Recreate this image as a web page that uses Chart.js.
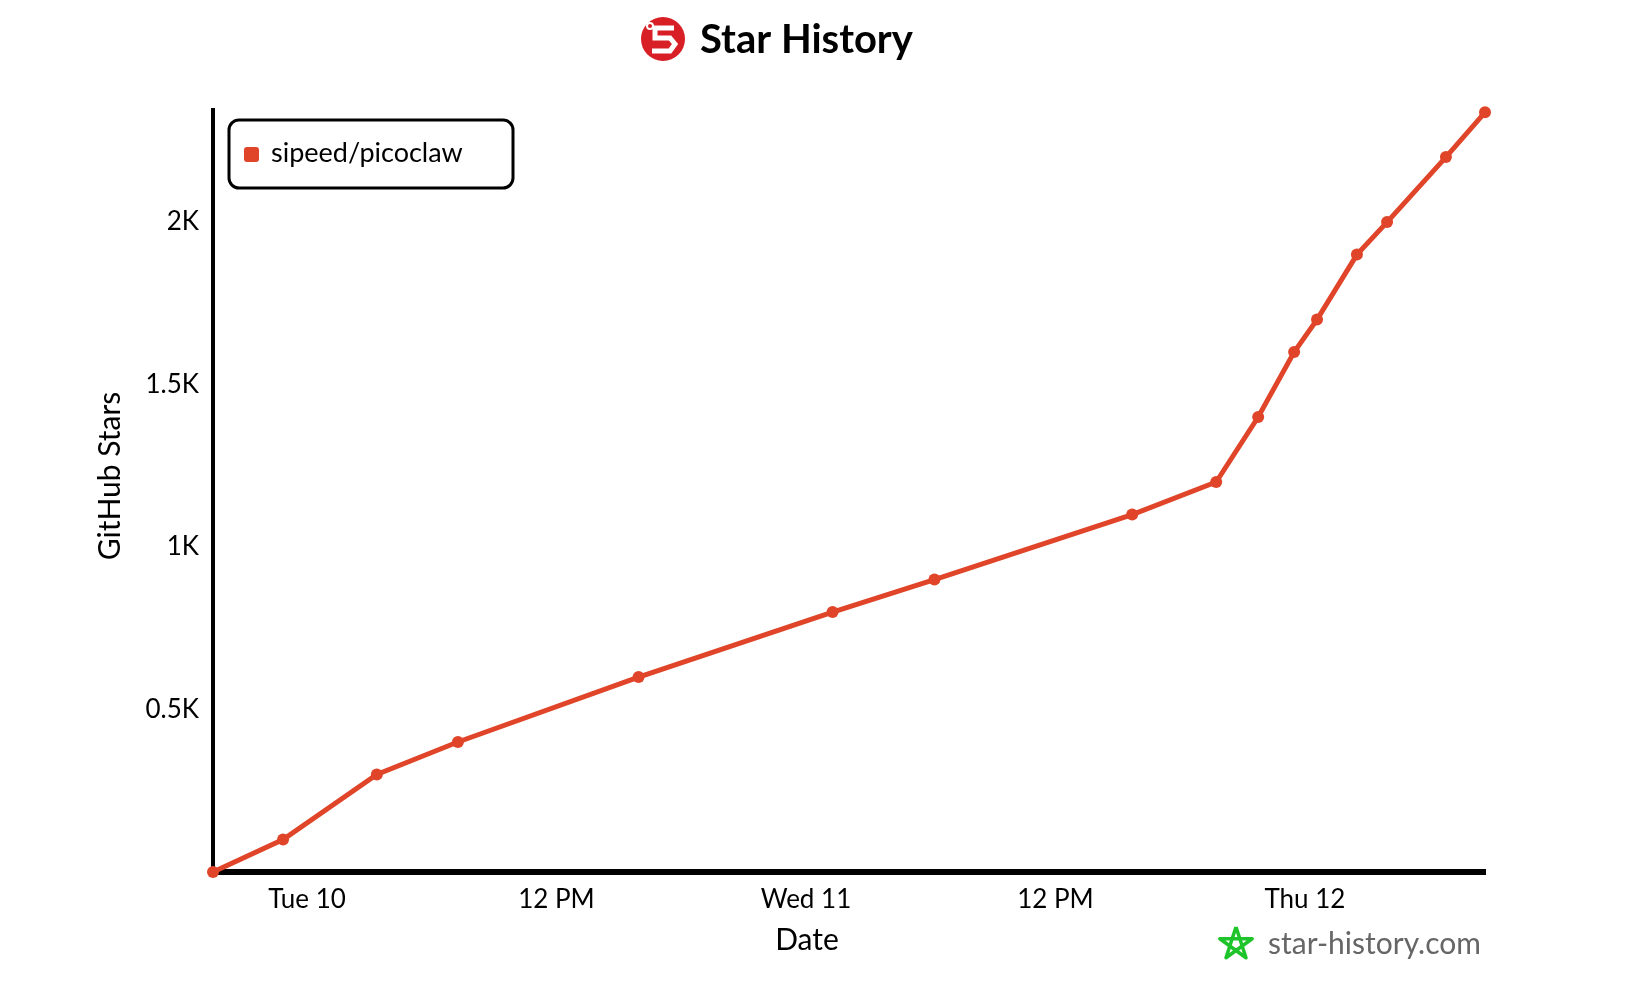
<!DOCTYPE html>
<html>
<head>
    <title>Star History</title>
    <script src="https://cdn.jsdelivr.net/npm/chart.js"></script>
    <style>
        body {
            margin: 0;
            background: #fff;
        }
    </style>
</head>
<body>
    <canvas id="myChart" width="1644" height="998"></canvas>

    <script>
        // hours since Tue 10 00:00
        const hours = [-4.52, -1.15, 3.36, 7.26, 15.95, 25.28, 30.18, 39.69, 43.73, 45.75, 47.48, 48.58, 50.5, 51.95, 54.78, 56.66];
        const stars = [0, 100, 300, 400, 600, 800, 900, 1100, 1200, 1400, 1600, 1700, 1900, 2000, 2200, 2338];
        const repoName = 'sipeed/picoclaw';

        const xTickHours = [0, 12, 24, 36, 48];
        const xTickLabels = ['Tue 10', '12 PM', 'Wed 11', '12 PM', 'Thu 12'];
        const yTickValues = [500, 1000, 1500, 2000];
        const yTickLabels = ['0.5K', '1K', '1.5K', '2K'];

        const lineColor = '#e0452a';
        const fontFamily = 'Lato, "Open Sans", sans-serif';

        // title, logo, axis titles, boxed legend and watermark
        const decor = {
            id: 'decor',
            afterDraw(chart) {
                const ctx = chart.ctx;
                ctx.save();

                // logo
                ctx.fillStyle = '#d91f26';
                ctx.beginPath();
                ctx.arc(663, 39, 22, 0, Math.PI * 2);
                ctx.fill();
                ctx.strokeStyle = '#fff';
                ctx.lineWidth = 5;
                ctx.beginPath();
                ctx.moveTo(674, 28);
                ctx.lineTo(655, 28);
                ctx.lineTo(655, 38);
                ctx.lineTo(670, 38);
                ctx.lineTo(675, 44);
                ctx.lineTo(670, 51);
                ctx.lineTo(652, 51);
                ctx.stroke();
                ctx.lineWidth = 2;
                ctx.beginPath();
                ctx.arc(650, 26, 3, 0, Math.PI * 2);
                ctx.stroke();

                ctx.fillStyle = '#000';
                ctx.font = 'bold 40px ' + fontFamily;
                ctx.textBaseline = 'middle';
                ctx.textAlign = 'left';
                ctx.fillText('Star History', 700, 40);

                // axis titles
                ctx.font = '30px ' + fontFamily;
                ctx.textAlign = 'center';
                ctx.fillText('Date', 807, 940);
                ctx.save();
                ctx.translate(110, 476);
                ctx.rotate(-Math.PI / 2);
                ctx.fillText('GitHub Stars', 0, 0);
                ctx.restore();
                ctx.textAlign = 'left';

                // legend
                const ds = chart.data.datasets[0];
                ctx.strokeStyle = '#000';
                ctx.lineWidth = 3;
                ctx.beginPath();
                ctx.roundRect(229, 120, 284, 68, 10);
                ctx.stroke();
                ctx.fillStyle = ds.borderColor;
                ctx.beginPath();
                ctx.roundRect(244, 147, 15, 15, 3);
                ctx.fill();
                ctx.fillStyle = '#000';
                ctx.font = '27px ' + fontFamily;
                ctx.fillText(ds.label, 271, 153);

                // watermark
                const cx = 1236, cy = 944, r = 17;
                ctx.strokeStyle = '#1fc42a';
                ctx.lineWidth = 3.5;
                ctx.lineJoin = 'round';
                ctx.beginPath();
                for (let k = 0; k <= 5; k++) {
                    const a = -Math.PI / 2 + k * 4 * Math.PI / 5;
                    const px = cx + r * Math.cos(a), py = cy + r * Math.sin(a);
                    if (k === 0) ctx.moveTo(px, py); else ctx.lineTo(px, py);
                }
                ctx.stroke();
                ctx.fillStyle = '#666';
                ctx.font = '30px ' + fontFamily;
                ctx.fillText('star-history.com', 1268, 944);

                ctx.restore();
            }
        };

        const ctx = document.getElementById('myChart').getContext('2d');
        new Chart(ctx, {
            type: 'line',
            data: {
                datasets: [{
                    label: repoName,
                    data: hours.map((h, i) => ({ x: h, y: stars[i] })),
                    borderColor: lineColor,
                    backgroundColor: lineColor,
                    pointBackgroundColor: lineColor,
                    borderWidth: 5,
                    pointRadius: 6,
                    pointBorderWidth: 0,
                    tension: 0,
                    clip: false,
                    fill: false
                }]
            },
            options: {
                responsive: false,
                animation: false,
                layout: {
                    padding: { left: 88, right: 159, top: 110, bottom: 36 }
                },
                plugins: {
                    legend: { display: false },
                    title: { display: false },
                    tooltip: { enabled: false }
                },
                scales: {
                    x: {
                        type: 'linear',
                        min: hours[0],
                        max: hours[hours.length - 1],
                        grid: { display: false, drawTicks: false },
                        border: { display: true, color: '#000', width: 6 },
                        afterBuildTicks: (scale) => {
                            scale.ticks = xTickHours.map(v => ({ value: v }));
                        },
                        afterFit: (scale) => { scale.height = 90; },
                        ticks: {
                            color: '#000',
                            padding: 12,
                            maxRotation: 0,
                            font: { family: fontFamily, size: 26 },
                            callback: (v) => xTickLabels[xTickHours.indexOf(v)]
                        }
                    },
                    y: {
                        min: 0,
                        max: 2345,
                        grid: { display: false, drawTicks: false },
                        border: { display: true, color: '#000', width: 4 },
                        afterBuildTicks: (scale) => {
                            scale.ticks = yTickValues.map(v => ({ value: v }));
                        },
                        afterFit: (scale) => { scale.width = 125; },
                        ticks: {
                            color: '#000',
                            padding: 14,
                            font: { family: fontFamily, size: 26 },
                            callback: (v) => yTickLabels[yTickValues.indexOf(v)]
                        }
                    }
                }
            },
            plugins: [decor]
        });
    </script>
</body>
</html>
